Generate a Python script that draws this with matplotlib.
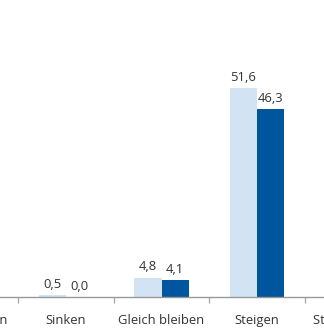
import matplotlib.pyplot as plt
import numpy as np

plt.rcParams['font.family'] = ['Open Sans', 'DejaVu Sans']

kategorien = ["Stark sinken", "Sinken", "Gleich bleiben", "Steigen", "Stark steigen"]
werte_hell = [0.0, 0.5, 4.8, 51.6, 43.1]
werte_dunkel = [0.0, 0.0, 4.1, 46.3, 49.6]

hell = "#d2e3f3"
dunkel = "#00559f"
textfarbe = "#333333"

fig = plt.figure(figsize=(3.24, 3.33), dpi=100)
# der Ausschnitt ist breiter als das Bild, links und rechts abgeschnitten
ax = fig.add_axes([-0.2384, 0.1081, 1.4738, 0.7297])

x = np.arange(len(kategorien))
b = 0.283
bars1 = ax.bar(x - b / 2, werte_hell, b, color=hell)
bars2 = ax.bar(x + b / 2, werte_dunkel, b, color=dunkel)

for bars, werte in [(bars1, werte_hell), (bars2, werte_dunkel)]:
    for r, w in zip(bars, werte):
        ax.annotate(f"{w:.1f}".replace(".", ","),
                    (r.get_x() + r.get_width() / 2, r.get_height()),
                    xytext=(0, 3), textcoords="offset points",
                    ha="center", va="bottom", fontsize=9.4, color=textfarbe)

ax.set_xlim(-0.5, 4.5)
ax.set_ylim(0, 60)
ax.set_xticks(x)
ax.set_xticklabels(kategorien, fontsize=9.4, color=textfarbe)
ax.set_xticks(np.arange(-0.5, 5, 1), minor=True)
ax.tick_params(axis="x", which="major", length=0, pad=12.5)
ax.tick_params(axis="x", which="minor", length=4, width=1, color="#aaaaaa")
ax.set_yticks([])
for s in ["top", "right", "left"]:
    ax.spines[s].set_visible(False)
ax.spines["bottom"].set_color("#999999")
ax.spines["bottom"].set_linewidth(1)

fig.savefig("out.png", dpi=100)
